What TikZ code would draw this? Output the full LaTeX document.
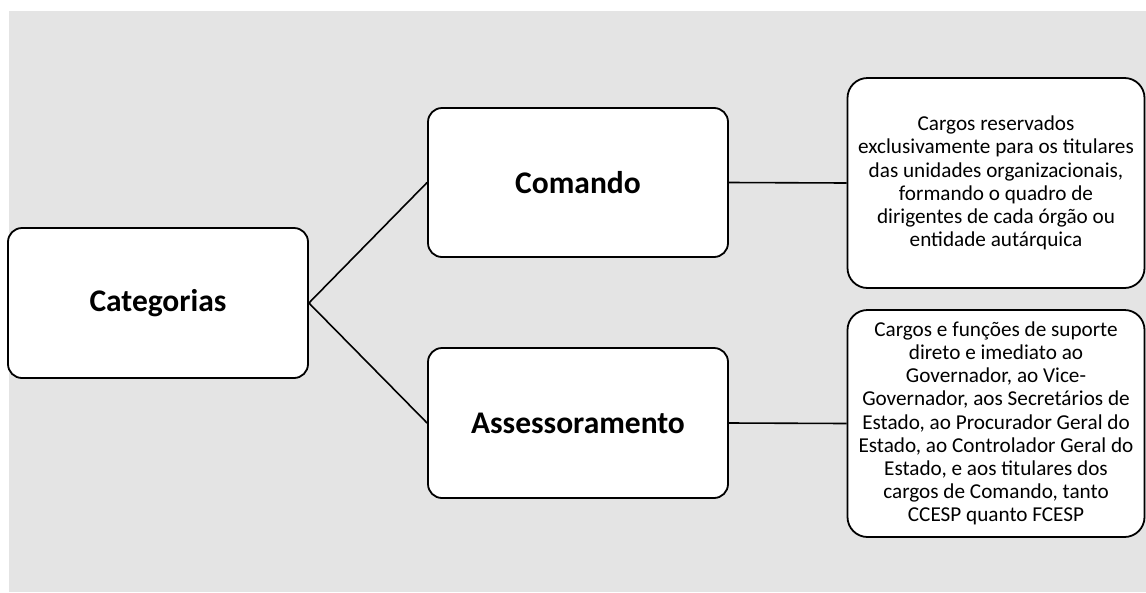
\documentclass[tikz,border=0pt]{standalone}
\usepackage{fontspec}
\setmainfont{Carlito}
\definecolor{bggray}{HTML}{E4E4E4}
\begin{document}
\begin{tikzpicture}[x=1pt,y=-1pt,
  mainbox/.style={draw=black, line width=1.8pt, fill=white, rounded corners=14pt, font=\fontsize{31.5}{36}\selectfont\bfseries, align=center, inner sep=0pt},
  descbox/.style={draw=black, line width=1.8pt, fill=white, rounded corners=20pt, font=\fontsize{21.2}{23.2}\selectfont, align=center, inner sep=0pt},
  link/.style={line width=1.6pt}]
\useasboundingbox (0,0) rectangle (1146,592);
\fill[bggray] (9,11) rectangle (1146,592);
\node[mainbox, minimum width=300pt, minimum height=150pt] (cat) at (158,303) {Categorias};
\node[mainbox, minimum width=300pt, minimum height=149pt] (com) at (578,182.5) {Comando};
\node[mainbox, minimum width=300pt, minimum height=150pt] (ass) at (578,423) {Assessoramento};
\node[descbox, minimum width=297pt, minimum height=210pt] (d1) at (996,183) {Cargos reservados\\exclusivamente para os titulares\\das unidades organizacionais,\\formando o quadro de\\dirigentes de cada órgão ou\\entidade autárquica};
\node[descbox, minimum width=297pt, minimum height=227pt] (d2) at (996,423.5) {Cargos e funções de suporte\\direto e imediato ao\\Governador, ao Vice-\\Governador, aos Secretários de\\Estado, ao Procurador Geral do\\Estado, ao Controlador Geral do\\Estado, e aos titulares dos\\cargos de Comando, tanto\\CCESP quanto FCESP};
\draw[link] (cat.east) -- (com.west);
\draw[link] (cat.east) -- (ass.west);
\draw[link] (com.east) -- (d1.west);
\draw[link] (ass.east) -- (d2.west);
\end{tikzpicture}
\end{document}
